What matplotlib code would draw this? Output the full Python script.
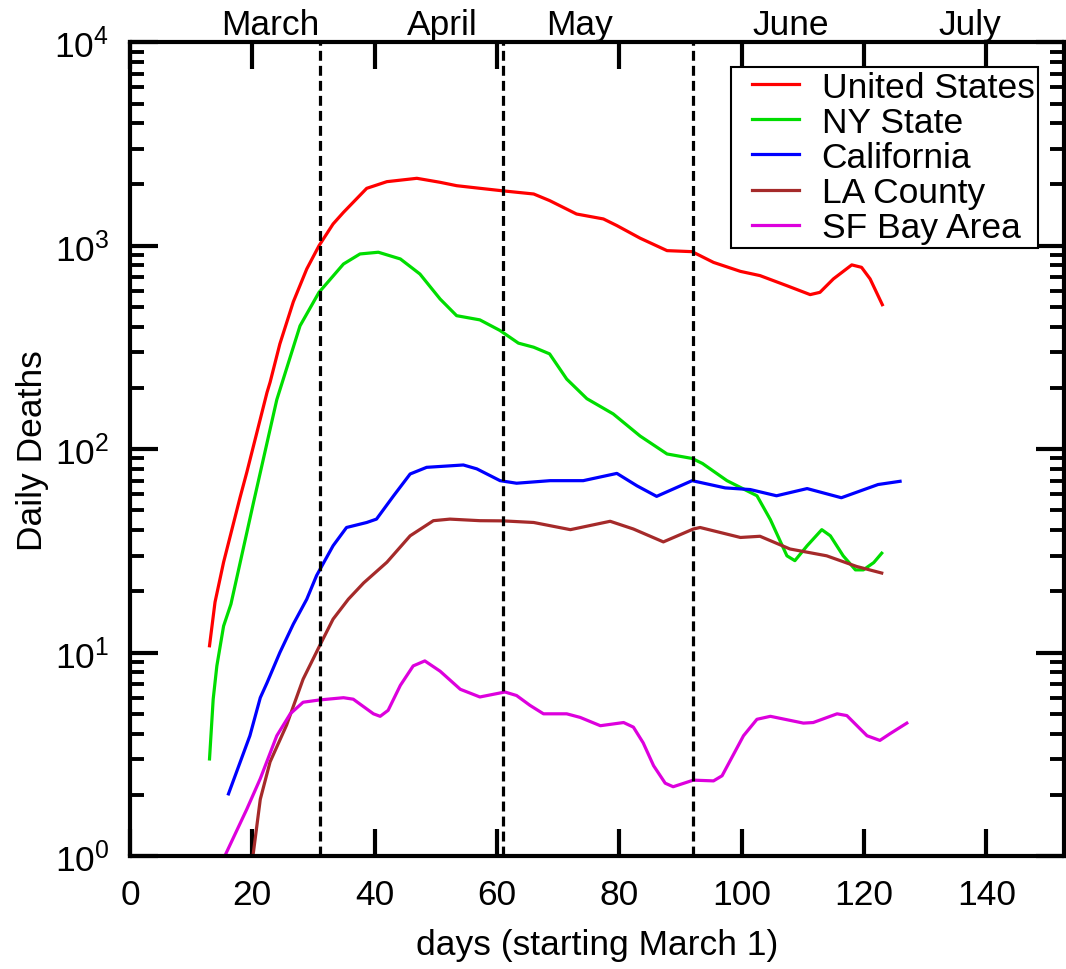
import numpy as np
import matplotlib
matplotlib.use("Agg")
import matplotlib.pyplot as plt
from matplotlib.lines import Line2D
from matplotlib.legend_handler import HandlerLine2D
from matplotlib.ticker import LogLocator, FixedLocator

plt.rcParams['font.family'] = ['Liberation Sans', 'DejaVu Sans']
plt.rcParams['mathtext.fontset'] = 'custom'
plt.rcParams['mathtext.rm'] = 'Liberation Sans'
plt.rcParams['mathtext.it'] = 'Liberation Sans:italic'
plt.rcParams['mathtext.default'] = 'regular'

# --- data (day since March 1, daily deaths) ---
us_day = [13.0, 13.9, 15.3, 18.0, 19.1, 22.4, 22.9, 24.5, 26.7, 28.9, 30.9, 33.2, 34.9, 38.7,
          42.0, 46.9, 50.7, 53.4, 56.7, 60.9, 66.0, 68.6, 73.0, 77.4, 79.6, 83.4, 87.8, 91.9,
          95.4, 99.8, 103.0, 107.4, 111.2, 112.8, 115.0, 118.0, 119.6, 121.0, 123.0]
us_deaths = [10.8, 17.7, 27.8, 58, 77, 190, 213, 329, 530, 769, 1000, 1279, 1459, 1915,
             2065, 2145, 2050, 1973, 1923, 1862, 1796, 1667, 1432, 1354, 1256, 1089, 946, 935,
             828, 748, 713, 636, 575, 590, 687, 805, 783, 687, 513]

ny_day = [13.0, 13.6, 14.2, 15.3, 16.5, 20.2, 24.0, 27.8, 30.9, 34.9, 37.6, 40.6, 44.2,
          47.4, 50.7, 53.4, 57.2, 60.5, 63.5, 66.0, 68.6, 71.4, 74.7, 79.0, 83.4, 87.8, 91.9,
          93.6, 97.6, 102.5, 104.7, 107.4, 108.7, 110.7, 113.1, 114.5, 116.6, 118.6, 119.9,
          121.6, 122.9]
ny_deaths = [3.0, 5.9, 8.6, 13.5, 17.3, 54.8, 175, 404, 590, 813, 911, 929, 861,
             726, 547, 453, 432, 383, 332, 317, 294, 221, 177, 149, 116, 94.7, 90,
             85, 70, 59, 45, 29.9, 28.3, 33.5, 40.2, 37.5, 29.9, 25.5, 25.5,
             27.7, 30.8]

ca_day = [16.1, 19.6, 21.3, 22.4, 24.5, 26.7, 28.9, 30.5, 33.2, 35.4, 38.7, 40.3, 43.1, 45.8,
          48.5, 54.5, 56.7, 60.5, 63.2, 68.7, 74.1, 79.6, 82.9, 86.1, 91.9, 97.3, 101.4,
          105.7, 110.7, 116.3, 122.3, 125.9]
ca_deaths = [2.02, 3.9, 6.0, 7.1, 10.0, 13.8, 18.3, 23.9, 33.5, 41.2, 43.6, 45.3, 59, 75.5,
             81.4, 83.6, 80, 70, 68, 70, 70, 76, 66, 58.6, 70, 64.5, 63.3,
             59, 64, 57.7, 67, 69.5]

la_day = [20.1, 21.3, 22.9, 25.6, 28.3, 31.0, 33.2, 35.7, 38.2, 42.0, 45.8, 49.6, 52.3, 57.2,
          61.0, 66.0, 72.0, 78.5, 82.3, 87.2, 92.1, 93.2, 99.8, 103.0, 107.9, 113.9, 118.8,
          122.9]
la_deaths = [1.0, 1.9, 2.9, 4.4, 7.4, 10.8, 14.6, 18.3, 22, 27.8, 37.5, 44.5, 45.3, 44.5,
             44.4, 43.6, 40.2, 44.2, 40.5, 35, 40.5, 41.2, 36.8, 37.3, 32.3, 29.9, 26.5,
             24.6]

sf_day = [15.5, 19.1, 21.3, 24.0, 26.2, 28.3, 31.0, 34.9, 36.5, 39.8, 40.9, 42.2, 44.2, 46.3,
          48.2, 50.7, 54.0, 57.2, 61.3, 63.2, 65.4, 67.6, 71.4, 73.6, 76.9, 80.7, 82.3, 83.9,
          85.6, 87.5, 88.8, 92.1, 95.4, 96.8, 100.3, 102.5, 104.7, 110.1, 111.7, 115.6, 117.2,
          120.5, 122.6, 124.3, 127.0]
sf_deaths = [1.0, 1.7, 2.4, 3.9, 5.0, 5.7, 5.85, 6.0, 5.9, 5.0, 4.86, 5.2, 6.9, 8.6,
             9.1, 8.1, 6.6, 6.05, 6.4, 6.15, 5.5, 5.0, 5.0, 4.8, 4.37, 4.53, 4.3, 3.6,
             2.78, 2.28, 2.19, 2.36, 2.34, 2.48, 3.9, 4.7, 4.86, 4.5, 4.53, 5.0, 4.9,
             3.9, 3.7, 4.0, 4.5]

series_names = ["United States", "NY State", "California", "LA County", "SF Bay Area"]
series_colors = ["#ff0000", "#00dd00", "#0000ff", "#a52a2a", "#dd00dd"]

month_starts = [31, 61, 92]
month_names = ["March", "April", "May", "June", "July"]
month_label_x = [23, 51, 73.5, 108, 137.3]

FS = 25.5

# --- figure ---
fig = plt.figure(figsize=(10.66, 9.70), dpi=100)
ax = fig.add_axes([130 / 1066, 1 - 857 / 970, 934 / 1066, 813.7 / 970])

all_series = [(us_day, us_deaths), (ny_day, ny_deaths), (ca_day, ca_deaths),
              (la_day, la_deaths), (sf_day, sf_deaths)]
for (d, v), name, col in zip(all_series, series_names, series_colors):
    ax.plot(d, v, color=col, lw=2.3, label=name, solid_joinstyle='round')

for m in month_starts:
    ax.axvline(m, color='black', lw=2.3, linestyle=(0, (3.1, 1.6)))

ax.set_yscale('log')
ax.set_xlim(0, 152.7)
ax.set_ylim(1, 1e4)

for side in ax.spines.values():
    side.set_linewidth(3)

ax.xaxis.set_major_locator(FixedLocator([0, 20, 40, 60, 80, 100, 120, 140]))
ax.yaxis.set_minor_locator(LogLocator(base=10, subs=np.arange(2, 10), numticks=10))
ax.set_yticks([1, 10, 100, 1000, 10000])
ax.set_yticklabels([r'$10^{0}$', r'$10^{1}$', r'$10^{2}$', r'$10^{3}$', r'$10^{4}$'])

ax.tick_params(axis='x', which='major', direction='in', length=19.5, width=3,
               top=True, bottom=True, labelsize=FS, pad=16)
ax.tick_params(axis='y', which='major', direction='in', length=20, width=3,
               left=True, right=True, labelsize=FS, pad=15)
ax.tick_params(axis='y', which='minor', direction='in', length=10, width=2.8,
               left=True, right=True)

ax.set_xlabel("days (starting March 1)", fontsize=FS, labelpad=12)
ax.set_ylabel("Daily Deaths", fontsize=FS, labelpad=4)

for mx, mn in zip(month_label_x, month_names):
    ax.annotate(mn, xy=(mx, 1.0), xycoords=('data', 'axes fraction'),
                xytext=(0, 6), textcoords='offset points',
                ha='center', va='baseline', fontsize=FS)

leg = ax.legend(loc='upper right', bbox_to_anchor=(0.9722, 0.9696),
                fontsize=FS, frameon=True, fancybox=False, framealpha=1,
                edgecolor='black', borderpad=0.1, labelspacing=0.06,
                handlelength=1.82, handletextpad=0.64, borderaxespad=0,
                handler_map={Line2D: HandlerLine2D(xpad=0.49)})
leg.get_frame().set_linewidth(1.5)

fig.savefig("out.png", dpi=100)
